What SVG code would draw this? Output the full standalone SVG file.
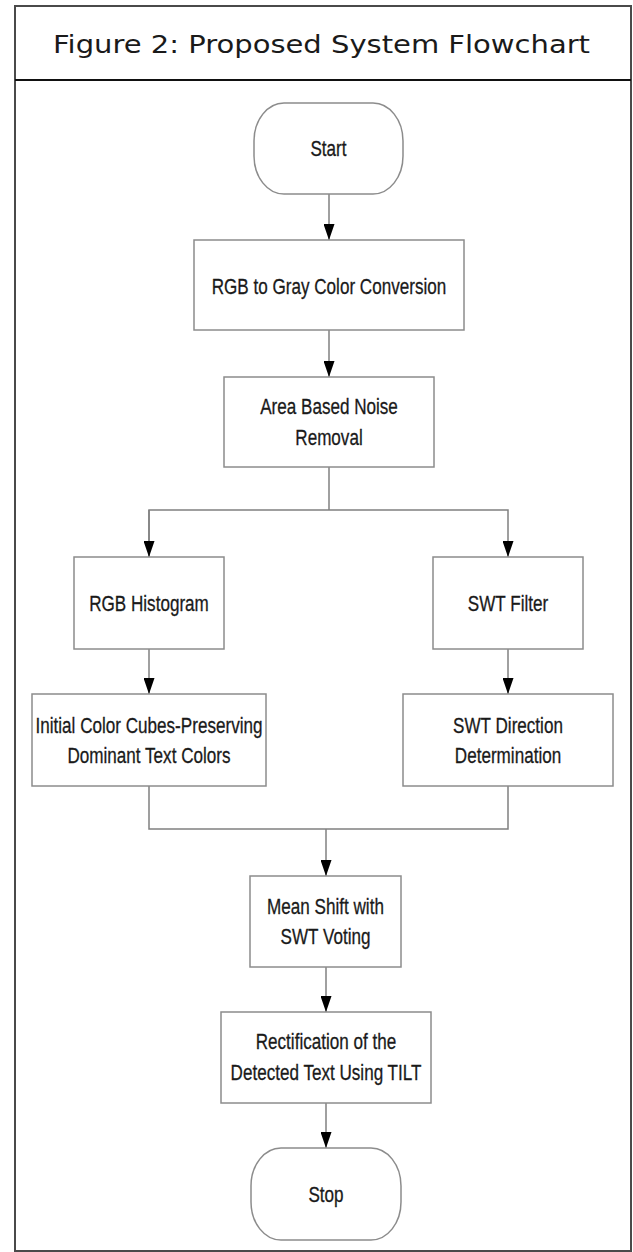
<svg xmlns="http://www.w3.org/2000/svg" width="633" height="1252" viewBox="0 0 633 1252">
<style>
.frame{fill:none;stroke:#4a4a4a;stroke-width:2}
.hdr{stroke:#111;stroke-width:2}
.title{font-family:"DejaVu Sans",sans-serif;font-size:24px;fill:#1a1a1a;text-anchor:middle}
.box{fill:#fff;stroke:#8c8c8c;stroke-width:1.5}
.lbl{font-family:"Liberation Sans",Arial,sans-serif;font-size:22.5px;fill:#1a1a1a;stroke:#1a1a1a;stroke-width:0.3;text-anchor:middle}
.con{fill:none;stroke:#808080;stroke-width:1.5}
</style>
<defs>
<marker id="ah" viewBox="0 0 16 11" refX="16" refY="5.5" markerWidth="16" markerHeight="11" markerUnits="userSpaceOnUse" orient="auto">
<path d="M0,0 L16,5.5 L0,11 z" fill="#000"/>
</marker>
</defs>
<rect width="633" height="1252" fill="#fff"/>
<rect class="frame" x="15" y="6" width="616" height="1245"/>
<line class="hdr" x1="15" y1="80" x2="631" y2="80"/>
<text class="title" x="321.5" y="53" textLength="537" lengthAdjust="spacingAndGlyphs">Figure 2: Proposed System Flowchart</text>

<g id="connectors">
<line class="con" x1="329" y1="194" x2="329" y2="240" marker-end="url(#ah)"/>
<line class="con" x1="329" y1="330" x2="329" y2="377" marker-end="url(#ah)"/>
<polyline class="con" points="329,467 329,510"/>
<polyline class="con" points="149,557 149,510 508,510 508,557" marker-end="url(#ah)"/>
<line class="con" x1="149" y1="510" x2="149" y2="557" marker-end="url(#ah)"/>
<line class="con" x1="149" y1="649" x2="149" y2="694" marker-end="url(#ah)"/>
<line class="con" x1="508" y1="649" x2="508" y2="694" marker-end="url(#ah)"/>
<polyline class="con" points="149,786 149,829 508,829 508,786"/>
<line class="con" x1="326" y1="829" x2="326" y2="876" marker-end="url(#ah)"/>
<line class="con" x1="326" y1="967" x2="326" y2="1012" marker-end="url(#ah)"/>
<line class="con" x1="326" y1="1103" x2="326" y2="1148" marker-end="url(#ah)"/>
</g>

<g id="start">
<rect class="box" x="254" y="103" width="149" height="91" rx="30" ry="38"/>
<text class="lbl" transform="translate(328.5 156) scale(0.76 1)">Start</text>
</g>
<g id="rgb2gray">
<rect class="box" x="194" y="240" width="270" height="90"/>
<text class="lbl" transform="translate(329 294) scale(0.76 1)">RGB to Gray Color Conversion</text>
</g>
<g id="noise">
<rect class="box" x="224" y="377" width="210" height="90"/>
<text class="lbl" transform="translate(329 414) scale(0.76 1)">Area Based Noise</text>
<text class="lbl" transform="translate(329 445) scale(0.76 1)">Removal</text>
</g>
<g id="histogram">
<rect class="box" x="74" y="557" width="150" height="92"/>
<text class="lbl" transform="translate(149 611) scale(0.76 1)">RGB Histogram</text>
</g>
<g id="swtfilter">
<rect class="box" x="433" y="557" width="150" height="92"/>
<text class="lbl" transform="translate(508 611) scale(0.76 1)">SWT Filter</text>
</g>
<g id="colorcubes">
<rect class="box" x="32" y="694" width="234" height="92"/>
<text class="lbl" transform="translate(149 733) scale(0.76 1)">Initial Color Cubes-Preserving</text>
<text class="lbl" transform="translate(149 763) scale(0.76 1)">Dominant Text Colors</text>
</g>
<g id="swtdir">
<rect class="box" x="403" y="694" width="210" height="92"/>
<text class="lbl" transform="translate(508 733) scale(0.76 1)">SWT Direction</text>
<text class="lbl" transform="translate(508 763) scale(0.76 1)">Determination</text>
</g>
<g id="meanshift">
<rect class="box" x="250" y="876" width="151" height="91"/>
<text class="lbl" transform="translate(325.5 914) scale(0.76 1)">Mean Shift with</text>
<text class="lbl" transform="translate(325.5 944) scale(0.76 1)">SWT Voting</text>
</g>
<g id="rectify">
<rect class="box" x="221" y="1012" width="210" height="91"/>
<text class="lbl" transform="translate(326 1049) scale(0.76 1)">Rectification of the</text>
<text class="lbl" transform="translate(326 1080) scale(0.76 1)">Detected Text Using TILT</text>
</g>
<g id="stop">
<rect class="box" x="251" y="1148" width="150" height="92" rx="30" ry="38"/>
<text class="lbl" transform="translate(326 1202) scale(0.76 1)">Stop</text>
</g>
</svg>
